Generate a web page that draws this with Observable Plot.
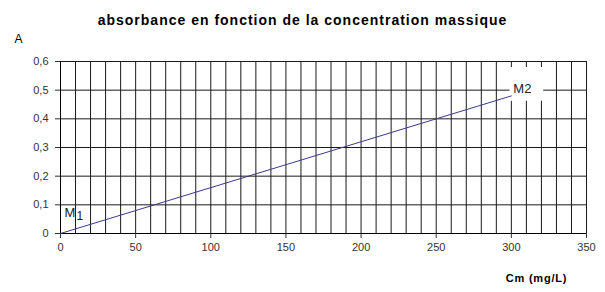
<!DOCTYPE html>
<html>
<head>
<meta charset="utf-8">
<script src="https://cdn.jsdelivr.net/npm/d3@7"></script>
<script src="https://cdn.jsdelivr.net/npm/@observablehq/plot@0.6"></script>
<style>
  body { margin: 0; background: #fff; }
  svg { font-family: "Liberation Sans", Arial, sans-serif; }
</style>
</head>
<body>
<div id="chart"></div>
<script>
// Calibration data: absorbance vs mass concentration
const cm = [0, 50, 100, 150, 200, 250, 300];
const absorbance = [0, 0.08, 0.16, 0.24, 0.32, 0.40, 0.48];

// Axis ticks and grid
const xTicks = [0, 50, 100, 150, 200, 250, 300, 350];
const yTicks = [0, 0.1, 0.2, 0.3, 0.4, 0.5, 0.6];
const xGrid = d3.range(10, 351, 10);

// Named points on the line
const pointNames = ["M1", "M2"];
const pointCm = [0, 300];
const pointA = [0, 0.48];

const title = "absorbance en fonction de la concentration massique";
const xLabel = "Cm (mg/L)";
const yLabel = "A";

const data = cm.map((c, i) => ({cm: c, a: absorbance[i]}));
const pts = pointNames.map((n, i) => ({name: n, cm: pointCm[i], a: pointA[i]}));
const m1 = pts[0], m2 = pts[1];

const fmt = d => d === 0 ? "0" : d.toFixed(1).replace(".", ",");
const gridColor = "#1a1a1a";

const chart = Plot.plot({
  width: 605,
  height: 292,
  marginTop: 61,
  marginBottom: 59,
  marginLeft: 60,
  marginRight: 19,
  style: {fontSize: "11px", fontFamily: "Liberation Sans, Arial, sans-serif"},
  x: {domain: [0, 350]},
  y: {domain: [0, 0.6]},
  marks: [
    Plot.ruleX(xGrid, {stroke: gridColor, strokeWidth: 1}),
    Plot.ruleY(yTicks.slice(1), {stroke: gridColor, strokeWidth: 1}),
    // white box behind the M2 label
    Plot.dot([m2], {x: "cm", y: "a", symbol: "square", r: 19, fill: "white", stroke: "none", dx: 15, dy: -12}),
    Plot.ruleX([0], {stroke: "#000"}),
    Plot.ruleY([0], {stroke: "#000"}),
    Plot.axisX({ticks: xTicks, tickSize: 5, tickPadding: 5, tickFormat: d => d, label: null, color: "#333", fontSize: 11}),
    Plot.axisY({ticks: yTicks, tickSize: 5, tickPadding: 7, tickFormat: fmt, label: null, color: "#333", fontSize: 11}),
    Plot.line(data, {x: "cm", y: "a", stroke: "#3a3a8c", strokeWidth: 1}),
    // point labels
    Plot.text([m1], {x: "cm", y: "a", text: d => d.name[0], textAnchor: "start", dx: 4, dy: -21, fontSize: 13, fill: "#222"}),
    Plot.text([m1], {x: "cm", y: "a", text: d => d.name.slice(1), textAnchor: "start", dx: 16, dy: -17, fontSize: 12, fill: "#222"}),
    Plot.text([m2], {x: "cm", y: "a", text: "name", textAnchor: "start", dx: 2, dy: -7, fontSize: 13, fill: "#222"}),
    // titles
    Plot.text([title], {frameAnchor: "top", lineAnchor: "middle", dx: -21, dy: -41, fontSize: 14, fontWeight: "bold", fill: "#000", style: "letter-spacing: 1px"}),
    Plot.text([yLabel], {frameAnchor: "top-left", lineAnchor: "middle", textAnchor: "middle", dx: -42, dy: -22, fontSize: 12, fill: "#000"}),
    Plot.text([xLabel], {frameAnchor: "bottom-right", lineAnchor: "middle", textAnchor: "middle", dx: -50, dy: 45, fontSize: 11, fontWeight: "bold", fill: "#000", style: "letter-spacing: 0.8px"})
  ]
});
// letter spacing for the title and axis label
chart.querySelectorAll("text").forEach(t => {
  if (t.textContent === title) t.setAttribute("letter-spacing", "1");
  if (t.textContent === xLabel) t.setAttribute("letter-spacing", "0.8");
});
document.getElementById("chart").appendChild(chart);
</script>
</body>
</html>
